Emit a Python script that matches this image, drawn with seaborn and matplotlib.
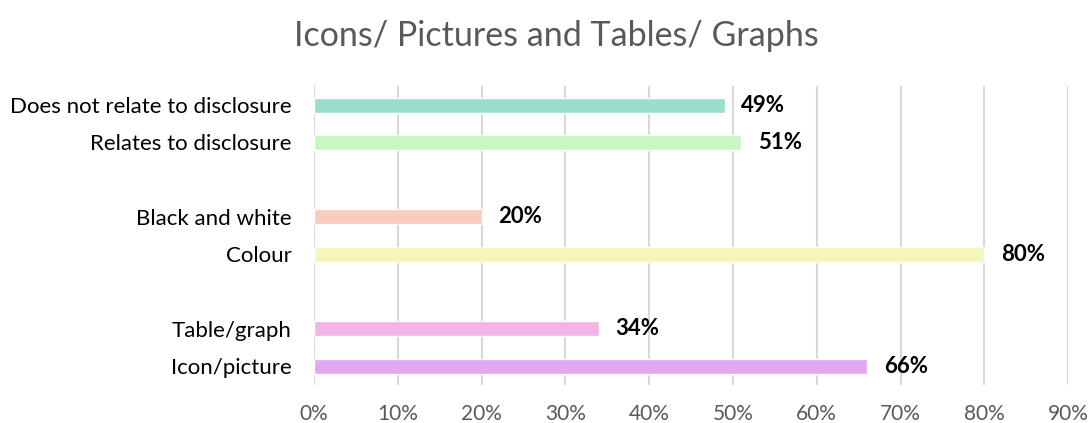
import matplotlib
matplotlib.use("Agg")
import matplotlib.pyplot as plt
import seaborn as sns
import pandas as pd
from matplotlib.ticker import FuncFormatter

categories = ["Does not relate to disclosure", "Relates to disclosure",
              "Black and white", "Colour", "Table/graph", "Icon/picture"]
values = [49, 51, 20, 80, 34, 66]
colors = ["#99dfcc", "#c6f7c2", "#f8cdbf", "#f3f7bb", "#f4b3e6", "#e0a8f1"]
order = ["Does not relate to disclosure", "Relates to disclosure", "gap1",
         "Black and white", "Colour", "gap2", "Table/graph", "Icon/picture"]
xticks = [0, 10, 20, 30, 40, 50, 60, 70, 80, 90]

sns.set_theme(style="white")
plt.rcParams['font.family'] = ['Lato', 'DejaVu Sans']

df = pd.DataFrame({"cat": categories, "val": values})
fig = plt.figure(figsize=(10.91, 4.23), dpi=100)
ax = fig.add_axes([0.2878, 0.0905, 0.979 - 0.2878, 0.7957 - 0.0905])

sns.barplot(data=df, x="val", y="cat", order=order, hue="cat",
            palette=dict(zip(categories, colors)), width=0.4, legend=False,
            ax=ax, saturation=1, zorder=3)

ax.set_xlim(0, 90)
ax.set_xticks(xticks)
ax.xaxis.set_major_formatter(FuncFormatter(lambda v, p: f"{int(v)}%"))
ax.grid(axis="x", color="#d9d9d9", linewidth=1.5, zorder=0)
ax.set_axisbelow(True)
for s in ax.spines.values():
    s.set_visible(False)
ax.set_xlabel("")
ax.set_ylabel("")
ax.tick_params(axis="x", labelsize=15, colors="#595959", pad=14, length=0)
ax.tick_params(axis="y", labelsize=16, colors="#000000", pad=16, length=0)
ax.set_yticks(range(len(order)))
ax.set_yticklabels([c if not c.startswith("gap") else "" for c in order])

for cat, v in zip(categories, values):
    ax.text(v + 2.0, order.index(cat), f"{v}%", va="center", ha="left",
            fontsize=16, fontweight="bold", color="#000000")

fig.text(0.51, 0.915, "Icons/ Pictures and Tables/ Graphs", ha="center", va="center",
         fontsize=24.5, color="#595959", fontweight="normal")

fig.savefig("out.png", dpi=100)
